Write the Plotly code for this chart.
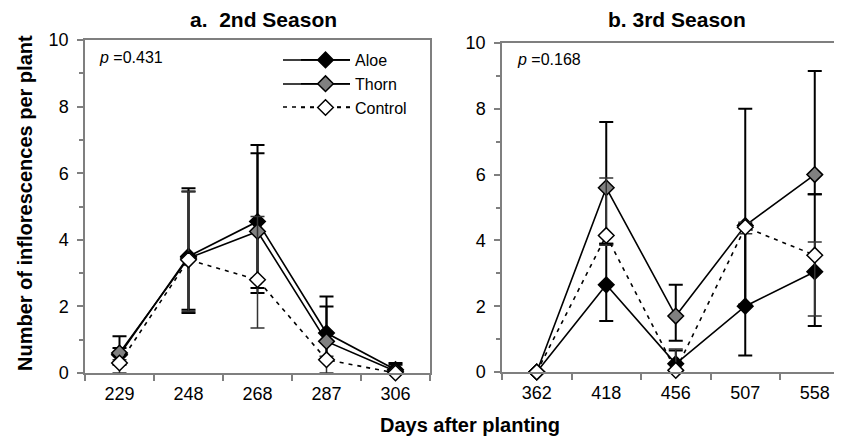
import plotly.graph_objects as go

# ---- data ----
days_s2 = ["229", "248", "268", "287", "306"]
days_s3 = ["362", "418", "456", "507", "558"]

aloe_s2 = [0.55, 3.5, 4.55, 1.2, 0.1]
thorn_s2 = [0.6, 3.45, 4.25, 0.95, 0.05]
control_s2 = [0.3, 3.4, 2.8, 0.4, 0.0]

aloe_s2_up = [0.55, 2.05, 2.3, 1.1, 0.2]
aloe_s2_dn = [0.3, 1.6, 2.15, 0.8, 0.1]
thorn_s2_up = [0.15, 2.0, 2.35, 1.05, 0.2]
thorn_s2_dn = [0.3, 1.65, 1.7, 0.55, 0.05]
control_s2_up = [0.1, 2.05, 1.9, 0.1, 0.0]
control_s2_dn = [0.3, 1.55, 1.45, 0.4, 0.0]

aloe_s3 = [0.0, 2.65, 0.25, 2.0, 3.05]
thorn_s3 = [0.0, 5.6, 1.7, 4.45, 6.0]
control_s3 = [0.0, 4.15, 0.05, 4.4, 3.55]

aloe_s3_up = [0.0, 1.25, 0.4, 2.5, 2.35]
aloe_s3_dn = [0.0, 1.1, 0.25, 1.5, 1.65]
thorn_s3_up = [0.0, 2.0, 0.95, 3.55, 3.15]
thorn_s3_dn = [0.0, 1.7, 0.75, 2.4, 0.6]
control_s3_up = [0.0, 1.75, 0.65, 0.15, 0.4]
control_s3_dn = [0.0, 0.3, 0.05, 0.2, 1.85]

p_s2 = "0.431"
p_s3 = "0.168"
yticks = [0, 2, 4, 6, 8, 10]

# page has an 8px body margin: the figure is shrunk and placed accordingly
OFF = 8
W, H = 842 - OFF, 443 - OFF
AX = "#7f7f7f"
FONT = "Liberation Sans, Arial, sans-serif"

def px_x(v):
    return (v - OFF) / W

def px_y(v):
    return 1 - (v - OFF) / H

series = [
    ("Aloe", "black", "solid", 1.6),
    ("Thorn", "#808080", "solid", 1.6),
    ("Control", "white", "4px,5px", 1.6),
]

fig = go.Figure()

s2 = [(aloe_s2, aloe_s2_up, aloe_s2_dn), (thorn_s2, thorn_s2_up, thorn_s2_dn),
      (control_s2, control_s2_up, control_s2_dn)]
s3 = [(aloe_s3, aloe_s3_up, aloe_s3_dn), (thorn_s3, thorn_s3_up, thorn_s3_dn),
      (control_s3, control_s3_up, control_s3_dn)]

def add_series(xcats, data, xa, ya, legend):
    for (name, fill, dash, lw), (y, up, dn) in zip(series, data):
        fig.add_trace(go.Scatter(
            x=xcats, y=y, name=name, mode="lines+markers",
            line=dict(color="black", width=lw, dash=dash),
            marker=dict(symbol="diamond", size=12, color=fill,
                        line=dict(color="black", width=1.5)),
            error_y=dict(type="data", symmetric=False, array=up, arrayminus=dn,
                         color="black" if name != "Control" else "#333333",
                         thickness=2 if name != "Control" else 1.5, width=7),
            cliponaxis=False, xaxis=xa, yaxis=ya, showlegend=legend))

add_series(days_s2, s2, "x", "y", True)
add_series(days_s3, s3, "x2", "y2", False)

xcommon = dict(type="category", tickson="boundaries", ticks="outside", ticklen=6,
               tickcolor=AX, tickwidth=1.5, showline=True, linecolor=AX, linewidth=1.5,
               mirror=True, showgrid=False, zeroline=False, automargin=False,
               tickfont=dict(family=FONT, size=18, color="black"),
               ticklabelstandoff=4)
ycommon = dict(range=[0, 10], tickvals=yticks, ticks="outside", ticklen=6,
               tickcolor=AX, tickwidth=1.5, showline=True, linecolor=AX, linewidth=1.5,
               showgrid=False, zeroline=False, automargin=False,
               tickfont=dict(family=FONT, size=18, color="black"),
               minor=dict(dtick=1, ticks="outside", ticklen=4, tickcolor=AX, tickwidth=1.5),
               ticklabelstandoff=5)
yover = dict(range=[0, 10], tickvals=yticks, ticks="inside", ticklen=6,
             tickcolor=AX, tickwidth=1.5, showticklabels=False, showline=False,
             showgrid=False, zeroline=False, automargin=False)

LEG_X = 296
fig.update_layout(
    width=W, height=H, margin=dict(l=0, r=0, t=0, b=0, pad=0, autoexpand=False),
    paper_bgcolor="white", plot_bgcolor="white",
    font=dict(family=FONT, color="black"),
    xaxis=dict(**xcommon, domain=[px_x(85), px_x(430)], range=[-0.5, 4.5], anchor="y"),
    yaxis=dict(**ycommon, domain=[px_y(373), px_y(40)], anchor="x", mirror=True),
    xaxis2=dict(**xcommon, domain=[px_x(502), 1.0], range=[-0.5, 4.392], anchor="y2"),
    yaxis2=dict(**ycommon, domain=[px_y(372), px_y(43)], anchor="x2", mirror=False),
    yaxis3=dict(**yover, overlaying="y", anchor="x"),
    yaxis4=dict(**yover, overlaying="y2", anchor="x2"),
    legend=dict(x=px_x(LEG_X), y=px_y(43), xanchor="left", yanchor="top",
                bgcolor="rgba(0,0,0,0)", font=dict(family=FONT, size=16, color="black"),
                tracegroupgap=0, itemwidth=49),
    showlegend=True,
)

# longer legend key lines (decoration of the legend, drawn beneath the legend symbols)
legend_rows = [60, 84, 107]
for (name, fill, dash, lw), yrow in zip(series, legend_rows):
    fig.add_shape(type="line", xref="paper", yref="paper",
                  x0=px_x(283), x1=px_x(350), y0=px_y(yrow), y1=px_y(yrow),
                  line=dict(color="black", width=lw, dash=dash))

titles = [
    ("a.\u00a0 2nd Season", 264, 19, 21),
    ("b. 3rd Season", 677, 19, 21),
    ("Days after planting", 470, 425, 20),
]
for text, x, y, size in titles:
    fig.add_annotation(xref="paper", yref="paper", x=px_x(x), y=px_y(y),
                       text="<b>" + text + "</b>", showarrow=False,
                       xanchor="center", yanchor="middle",
                       font=dict(size=size, family=FONT))

fig.add_annotation(xref="paper", yref="paper", x=px_x(25), y=px_y(203),
                   text="<b>Number of inflorescences per plant</b>", textangle=-90,
                   showarrow=False, xanchor="center", yanchor="middle",
                   font=dict(size=20, family=FONT))

fig.add_annotation(xref="paper", yref="paper", x=px_x(97), y=px_y(58),
                   text="<i>p</i> =" + p_s2, showarrow=False, xanchor="left",
                   yanchor="middle", font=dict(size=16, family=FONT))
fig.add_annotation(xref="paper", yref="paper", x=px_x(515), y=px_y(59),
                   text="<i>p</i> =" + p_s3, showarrow=False, xanchor="left",
                   yanchor="middle", font=dict(size=16, family=FONT))

fig.write_html("out.html")
